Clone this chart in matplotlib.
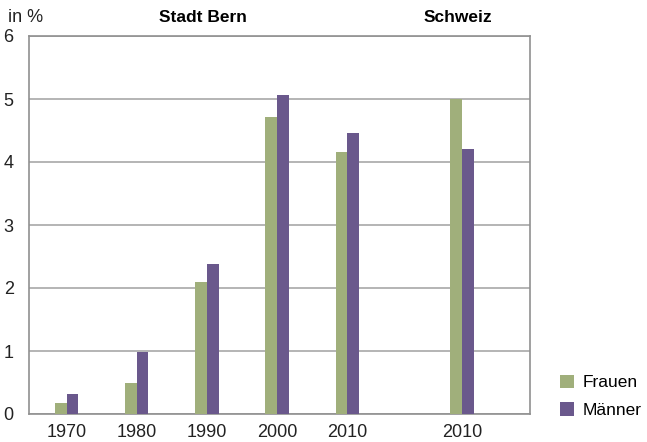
import matplotlib
matplotlib.use('Agg')
import matplotlib.pyplot as plt
import numpy as np

# data
labels = ['1970', '1980', '1990', '2000', '2010', '2010']
frauen = [0.17, 0.49, 2.10, 4.71, 4.16, 5.00]
maenner = [0.32, 0.99, 2.38, 5.06, 4.46, 4.21]
xpos = [0, 1, 2, 3, 4, 5.64]

green = '#A0AF7B'
purple = '#6A588C'
grid = '#A8A8A8'

plt.rcParams['font.family'] = ['Liberation Sans', 'DejaVu Sans']

fig = plt.figure(figsize=(6.47, 4.42), dpi=100)
ax = fig.add_axes([29/647, 1-414/442, (530-29)/647, (414-36)/442])

w = 0.165
x = np.array(xpos)
ax.bar(x - w/2, frauen, w, color=green, label='Frauen', zorder=3)
ax.bar(x + w/2, maenner, w, color=purple, label='Männer', zorder=3)

ax.set_xlim(-0.54, 6.61)
ax.set_ylim(0, 6)
ax.set_yticks(range(7))
ax.yaxis.grid(True, color=grid, lw=1.2, zorder=0)
ax.set_xticks(xpos)
ax.set_xticklabels(labels)
ax.tick_params(axis='both', length=0, labelsize=13, colors='#222222')
ax.tick_params(axis='y', pad=11)
ax.tick_params(axis='x', pad=7)
for s in ax.spines.values():
    s.set_color('#909090')
    s.set_linewidth(1.2)

fig.text(8/647, 1-17/442, 'in %', fontsize=13, va='center', ha='left', color='#222222')
fig.text(203/647, 1-17/442, 'Stadt Bern', fontsize=12.5, va='center', ha='center', fontweight='bold')
fig.text(458/647, 1-17/442, 'Schweiz', fontsize=12.5, va='center', ha='center', fontweight='bold')

fig.legend(loc='lower left', bbox_to_anchor=(560/647, 1-418/442), frameon=False, fontsize=12.5,
           handlelength=0.8, handleheight=0.8, handletextpad=0.5, labelspacing=0.7,
           borderpad=0, borderaxespad=0)

plt.savefig('out.png')
